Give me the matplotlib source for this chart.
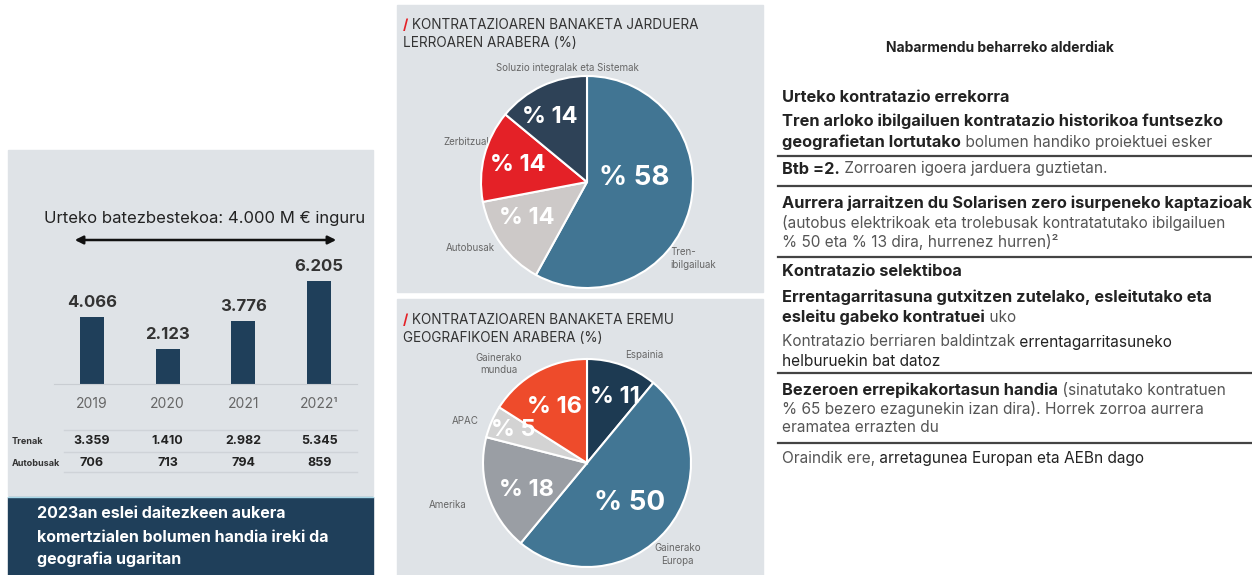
import matplotlib.pyplot as plt
from matplotlib.patches import Rectangle
from matplotlib.lines import Line2D
from matplotlib import transforms

plt.rcParams['font.family'] = ['Inter', 'DejaVu Sans']

W, H = 1252, 575

# datuak
years = ['2019', '2020', '2021', '2022\u00b9']
totals = [4066, 2123, 3776, 6205]
total_labels = ['4.066', '2.123', '3.776', '6.205']
trenak = ['3.359', '1.410', '2.982', '5.345']
autobusak = ['706', '713', '794', '859']

activity_labels = ['Tren-\nibilgailuak', 'Autobusak', 'Zerbitzuak', 'Soluzio integralak eta Sistemak']
activity_share = [58, 14, 14, 14]
activity_colors = ['#417593', '#cdc9c8', '#e42127', '#2e4257']

geo_labels = ['Espainia', 'Gainerako\nEuropa', 'Amerika', 'APAC', 'Gainerako\nmundua']
geo_share = [11, 50, 18, 5, 16]
geo_colors = ['#1d3a52', '#427694', '#9a9ea4', '#d3d3d3', '#ee4b2b']

BG = '#dfe3e7'
NAVY = '#1f3f5a'

fig = plt.figure(figsize=(W / 100, H / 100), dpi=100)
fig.patch.set_facecolor('white')


def px_axes(x0, y0, x1, y1, **kw):
    return fig.add_axes([x0 / W, 1 - y1 / H, (x1 - x0) / W, (y1 - y0) / H], **kw)


# fondoko ardatza, pixel koordenatuetan
bg = px_axes(0, 0, W, H)
bg.set_xlim(0, W)
bg.set_ylim(H, 0)
bg.axis('off')
bg.set_zorder(0)

bg.add_patch(Rectangle((8, 150), 365, 345, color=BG))
bg.add_patch(Rectangle((8, 497), 365, 78, color=NAVY))
bg.add_line(Line2D([8, 373], [497, 497], color='#a8d8e8', lw=1))
bg.add_patch(Rectangle((397, 5), 366, 287, color=BG))
bg.add_patch(Rectangle((397, 299), 366, 276, color=BG))

BOLD_SIZE, REG_SIZE = 11.8, 11.1


def chain(x, y, parts, size=None, ax=bg):
    """Testu zatiak bata bestearen atzetik idatzi."""
    def fs(w):
        if size is not None:
            return size
        return BOLD_SIZE if w == 'bold' else REG_SIZE
    first_txt, first_w, first_c = parts[0]
    t = ax.text(x, y, first_txt, fontsize=fs(first_w), fontweight=first_w, color=first_c,
                ha='left', va='center')
    for txt, w, c in parts[1:]:
        t = ax.annotate(txt, xy=(1, 0), xycoords=t, fontsize=fs(w), fontweight=w,
                        color=c, ha='left', va='bottom')
    return t


# ---- ezkerreko panela: barrak ----
bx = px_axes(54, 185, 357, 384)
bx.patch.set_alpha(0)
bx.bar(range(len(totals)), totals, width=0.32, color=NAVY)
bx.set_xlim(-0.5, 3.5)
bx.set_ylim(0, 12000)
for s in ['top', 'right', 'left']:
    bx.spines[s].set_visible(False)
bx.spines['bottom'].set_color('#c9cdd2')
bx.set_yticks([])
bx.set_xticks(range(len(years)))
bx.set_xticklabels(years, fontsize=10, color='#666666')
bx.tick_params(axis='x', length=0, pad=9)
for i, (v, lab) in enumerate(zip(totals, total_labels)):
    bx.annotate(lab, (i, v), xytext=(0, 5), textcoords='offset points',
                ha='center', va='bottom', fontsize=12, fontweight='bold', color='#333333')

bg.text(205, 219, 'Urteko batezbestekoa: 4.000 M \u20ac inguru', fontsize=12,
        color='#222222', ha='center', va='center')
bg.annotate('', xy=(339, 240), xytext=(72, 240),
            arrowprops=dict(arrowstyle='<|-|>', color='#111111', lw=1.8, mutation_scale=12))

# taula
mix = transforms.blended_transform_factory(bx.transData, bg.transData)
for yy in [430, 452, 472]:
    bg.add_line(Line2D([64, 357], [yy, yy], color='#cfd3d8', lw=1))
bg.text(12, 441, 'Trenak', fontsize=6.5, fontweight='bold', color='#333333', va='center')
bg.text(12, 463, 'Autobusak', fontsize=6.5, fontweight='bold', color='#333333', va='center')
for i in range(len(trenak)):
    bx.text(i, 441, trenak[i], transform=mix, ha='center', va='center',
            fontsize=9, fontweight='bold', color='#222222')
    bx.text(i, 463, autobusak[i], transform=mix, ha='center', va='center',
            fontsize=9, fontweight='bold', color='#222222')

for yy, line in zip([514, 537, 559], ['2023an eslei daitezkeen aukera',
                                      'komertzialen bolumen handia ireki da',
                                      'geografia ugaritan']):
    bg.text(37, yy, line, fontsize=11.5, fontweight='bold', color='white', va='center')


# ---- erdiko panelak: tartak ----
def pie_panel(cx, cy, r, shares, colors, labels, pct_pos, lab_pos, pct_sizes):
    m = 165
    ax = px_axes(cx - m, cy - m, cx + m, cy + m)
    ax.patch.set_alpha(0)
    ax.pie(shares, colors=colors, startangle=90, counterclock=False,
           wedgeprops=dict(edgecolor='white', linewidth=1.5))
    ax.set_xlim(-m / r, m / r)
    ax.set_ylim(-m / r, m / r)
    ax.axis('off')
    for v, (px, py), fs in zip(shares, pct_pos, pct_sizes):
        ax.text(px, py, f'% {v}', ha='center', va='center', fontsize=fs,
                fontweight='bold', color='white')
    for lab, (lx, ly, ha) in zip(labels, lab_pos):
        ax.text(lx, ly, lab, ha=ha, va='center', fontsize=7, color='#666666',
                zorder=0.5, linespacing=1.3)
    return ax


pie_panel(587, 182, 106, activity_share, activity_colors, activity_labels,
          pct_pos=[(0.45, 0.04), (-0.57, -0.34), (-0.65, 0.16), (-0.35, 0.61)],
          lab_pos=[(0.79, -0.72, 'left'), (-1.10, -0.62, 'center'),
                   (-1.12, 0.38, 'center'), (-0.18, 1.08, 'center')],
          pct_sizes=[20, 17, 17, 17])

pie_panel(587, 463, 104, geo_share, geo_colors, geo_labels,
          pct_pos=[(0.27, 0.63), (0.41, -0.38), (-0.58, -0.26), (-0.71, 0.32), (-0.31, 0.54)],
          lab_pos=[(0.55, 1.04, 'center'), (0.87, -0.88, 'center'), (-1.34, -0.40, 'center'),
                   (-1.17, 0.40, 'center'), (-0.85, 0.95, 'center')],
          pct_sizes=[17, 20, 17, 17, 17])

for y1, y2, l1, l2 in [(25, 43, 'KONTRATAZIOAREN BANAKETA JARDUERA', 'LERROAREN ARABERA (%)'),
                       (320, 338, 'KONTRATAZIOAREN BANAKETA EREMU', 'GEOGRAFIKOEN ARABERA (%)')]:
    chain(403, y1, [('/', 'bold', '#e42127'), (' ' + l1, 'normal', '#333333')], size=9.8)
    bg.text(403, y2, l2, fontsize=9.8, color='#333333', va='center')

# ---- eskuineko panela: testua ----
DARK, GREY = '#222222', '#555555'
bg.text(1000, 48, 'Nabarmendu beharreko alderdiak', fontsize=10, fontweight='bold',
        color=DARK, ha='center', va='center')

right_lines = [
    (97, [('Urteko kontratazio errekorra', 'bold', DARK)]),
    (121, [('Tren arloko ibilgailuen kontratazio historikoa funtsezko', 'bold', DARK)]),
    (142, [('geografietan lortutako', 'bold', DARK), (' bolumen handiko proiektuei esker', 'normal', GREY)]),
    (169, [('Btb =2.', 'bold', DARK), (' Zorroaren igoera jarduera guztietan.', 'normal', GREY)]),
    (203, [('Aurrera jarraitzen du Solarisen zero isurpeneko kaptazioak', 'bold', DARK)]),
    (223, [('(autobus elektrikoak eta trolebusak kontratatutako ibilgailuen', 'normal', GREY)]),
    (242, [('% 50 eta % 13 dira, hurrenez hurren)\u00b2', 'normal', GREY)]),
    (272, [('Kontratazio selektiboa', 'bold', DARK)]),
    (297, [('Errentagarritasuna gutxitzen zutelako, esleitutako eta', 'bold', DARK)]),
    (317, [('esleitu gabeko kontratuei', 'bold', DARK), (' uko', 'normal', GREY)]),
    (342, [('Kontratazio berriaren baldintzak', 'normal', GREY), (' errentagarritasuneko', 'normal', DARK)]),
    (361, [('helburuekin bat datoz', 'normal', DARK)]),
    (390, [('Bezeroen errepikakortasun handia', 'bold', DARK), (' (sinatutako kontratuen', 'normal', GREY)]),
    (409, [('% 65 bezero ezagunekin izan dira). Horrek zorroa aurrera', 'normal', GREY)]),
    (428, [('eramatea errazten du', 'normal', GREY)]),
    (458, [('Oraindik ere,', 'normal', GREY), (' arretagunea Europan eta AEBn dago', 'normal', DARK)]),
]
for yy, parts in right_lines:
    chain(782, yy, parts)

for yy in [156, 186, 257, 373, 443]:
    bg.add_line(Line2D([778, W], [yy, yy], color='#444444', lw=1.6))

fig.savefig('out.png', dpi=100)
